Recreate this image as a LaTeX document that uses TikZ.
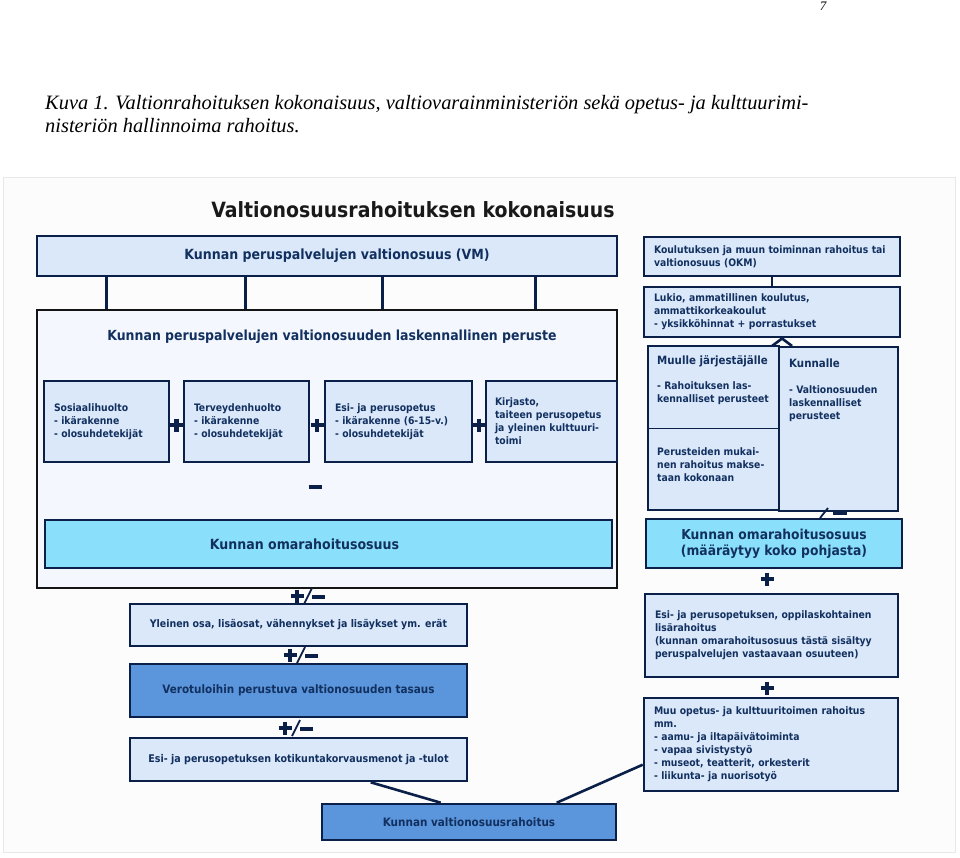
\documentclass[tikz,border=0pt]{standalone}
\usepackage{fontspec}
\setmainfont{Liberation Serif}
\newfontfamily\dv{DejaVu Sans Condensed}
\usetikzlibrary{calc}
\definecolor{navy}{HTML}{0B2048}
\definecolor{txt}{HTML}{12305F}
\definecolor{lite}{HTML}{DAE8FA}
\definecolor{frm}{HTML}{F4F8FE}
\definecolor{cyanbox}{HTML}{8ADFFA}
\definecolor{midblue}{HTML}{5B96DC}
\definecolor{bgpage}{HTML}{FCFCFC}
\newcommand\plusmark[2]{\draw[symline] (#1-6.5,#2) -- (#1+6.5,#2) (#1,#2-6.5) -- (#1,#2+6.5);}
\newcommand\minusmark[2]{\draw[symline] (#1-6.5,#2) -- (#1+6.5,#2);}
\newcommand\pmmark[2]{\plusmark{#1}{#2}\draw[slashline] (#1+7,#2+8) -- (#1+15,#2-8);\draw[symline] (#1+15,#2+1) -- (#1+28,#2+1);}
\begin{document}
\begin{tikzpicture}[x=1pt,y=-1pt,
  box/.style={draw=navy, line width=2.6pt, fill=lite, inner sep=0pt, text=txt,
    font=\dv\bfseries\fontsize{10.3}{13}\selectfont},
  lbox/.style={box, align=left, inner xsep=10pt},
  plain/.style={inner sep=0pt, text=txt, align=left, anchor=north west,
    font=\dv\bfseries\fontsize{10.3}{13}\selectfont},
  symline/.style={draw=navy, line width=4.2pt},
  slashline/.style={draw=navy, line width=1.8pt},
  conn/.style={draw=navy, line width=2.6pt},
  thinconn/.style={draw=navy, line width=1.4pt}]
\useasboundingbox (0,0) rectangle (960,857);
\fill[white] (0,0) rectangle (960,857);
% page number and caption
\node[anchor=north, inner sep=0pt, font=\itshape\fontsize{13}{15}\selectfont] (pgnum) at (823,1.5) {7};
\node[anchor=base west, inner sep=0pt, font=\itshape\fontsize{20.4}{23}\selectfont] (cap1) at (45,109)
  {Kuva 1. Valtionrahoituksen kokonaisuus, valtiovarainministeriön sekä opetus- ja kulttuurimi-};
\node[anchor=base west, inner sep=0pt, font=\itshape\fontsize{20.4}{23}\selectfont] (cap2) at (45,132)
  {nisteriön hallinnoima rahoitus.};
% diagram background
\node[draw=black!9, line width=1pt, fill=bgpage, minimum width=952pt, minimum height=675pt, inner sep=0pt] (bg) at (479,514.5) {};
\node[inner sep=0pt, text=black!90, font=\dv\bfseries\fontsize{21}{24}\selectfont] (title) at (413,210) {Valtionosuusrahoituksen kokonaisuus};
% left column
\node[box, minimum width=580pt, minimum height=40pt, font=\dv\bfseries\fontsize{14}{16}\selectfont] (vm) at (327,256)
  {\hspace*{20pt}Kunnan peruspalvelujen valtionosuus (VM)};
\node[draw=black!92, line width=2.6pt, fill=frm, minimum width=580pt, minimum height=278pt, inner sep=0pt] (frame) at (327,449) {};
\node[inner sep=0pt, text=txt, font=\dv\bfseries\fontsize{13.9}{16}\selectfont] (heading) at (332,337)
  {Kunnan peruspalvelujen valtionosuuden laskennallinen peruste};
\foreach \x in {71,210,347,500}
  \draw[conn] ([xshift=\x pt]vm.south west) -- ([xshift=\x pt]frame.north west);
\node[lbox, text width=105pt, minimum height=81pt] (b1) at (106.5,421.5)
  {Sosiaalihuolto\\- ikärakenne\\- olosuhdetekijät};
\node[lbox, text width=105pt, minimum height=81pt] (b2) at (246.5,421.5)
  {Terveydenhuolto\\- ikärakenne\\- olosuhdetekijät};
\node[lbox, text width=127pt, minimum height=81pt] (b3) at (398.5,421.5)
  {Esi- ja perusopetus\\- ikärakenne (6-15-v.)\\- olosuhdetekijät};
\node[box, align=left, inner xsep=9pt, text width=113pt, minimum height=81pt] (b4) at (551.5,421.5)
  {Kirjasto,\\taiteen perusopetus\\ja yleinen kulttuuri-\\toimi};
\plusmark{176.5}{425}
\plusmark{317}{425}
\plusmark{479}{425}
\minusmark{315}{487}
\node[box, fill=cyanbox, minimum width=567pt, minimum height=48pt, font=\dv\bfseries\fontsize{14}{16}\selectfont] (oma) at (328.5,544)
  {\raisebox{-4pt}{Kunnan omarahoitusosuus}\hspace*{48pt}};
\pmmark{297}{596}
\node[box, minimum width=337pt, minimum height=42pt, font=\dv\bfseries\fontsize{10.5}{13}\selectfont] (yleinen) at (298.5,625)
  {Yleinen osa, lisäosat, vähennykset ja lisäykset ym. erät};
\pmmark{290}{655}
\node[box, fill=midblue, minimum width=337pt, minimum height=53pt, font=\dv\bfseries\fontsize{11.6}{14}\selectfont] (vero) at (298.5,690.5)
  {Verotuloihin perustuva valtionosuuden tasaus};
\pmmark{285}{728}
\node[box, minimum width=337pt, minimum height=43pt, font=\dv\bfseries\fontsize{10.6}{13}\selectfont] (koti) at (298.5,759.5)
  {Esi- ja perusopetuksen kotikuntakorvausmenot ja -tulot};
\node[box, fill=midblue, minimum width=294pt, minimum height=36pt, font=\dv\bfseries\fontsize{11.6}{14}\selectfont] (bottom) at (469,822)
  {Kunnan valtionosuusrahoitus};
% right column
\node[lbox, text width=236pt, minimum height=39pt] (okm) at (772,256.5)
  {Koulutuksen ja muun toiminnan rahoitus tai\\valtionosuus (OKM)};
\node[lbox, text width=236pt, minimum height=50pt] (lukio) at (772,312)
  {Lukio, ammatillinen koulutus,\\ammattikorkeakoulut\\- yksikköhinnat + porrastukset};
\draw[conn] (okm.south) -- (lukio.north);
\node[box, minimum width=131pt, minimum height=164pt] (muulle) at (713.5,428) {};
\node[box, minimum width=119pt, minimum height=164pt] (kunnalle) at (838.5,429) {};
\draw[thinconn] ([yshift=-84pt]muulle.north west) -- ([yshift=-84pt]muulle.north east);
\coordinate (chevtop) at (782,338.5);
\coordinate (chevl) at (772,346);
\coordinate (chevr) at (792,346);
\draw[conn, line join=miter] (chevl) -- (chevtop) -- (chevr);
\node[plain, font=\dv\bfseries\fontsize{11.4}{13}\selectfont] (muut1) at (657,355) {Muulle järjestäjälle};
\node[plain] (muut2) at (657,381.5) {- Rahoituksen las-\\kennalliset perusteet};
\node[plain] (muut3) at (657,447.5) {Perusteiden mukai-\\nen rahoitus makse-\\taan kokonaan};
\node[plain, font=\dv\bfseries\fontsize{11.4}{13}\selectfont] (kunt1) at (789,359) {Kunnalle};
\node[plain] (kunt2) at (789,385.5) {- Valtionosuuden\\laskennalliset\\perusteet};
\node[box, fill=cyanbox, minimum width=256pt, minimum height=49pt, align=center, font=\dv\bfseries\fontsize{13.7}{16}\selectfont] (omar) at (774,543.5)
  {Kunnan omarahoitusosuus\\(määräytyy koko pohjasta)};
\draw[slashline] (820,518) -- (828,508);
\draw[draw=navy, line width=3.6pt] (833,513.5) -- (847,513.5);
\plusmark{767}{579}
\node[lbox, text width=233pt, minimum height=83pt] (esir) at (771.5,635.5)
  {Esi- ja perusopetuksen, oppilaskohtainen\\lisärahoitus\\(kunnan omarahoitusosuus tästä sisältyy\\peruspalvelujen vastaavaan osuuteen)};
\plusmark{767}{688}
\node[lbox, text width=234pt, minimum height=93pt] (muu) at (771,744.5)
  {Muu opetus- ja kulttuuritoimen rahoitus\\mm.\\- aamu- ja iltapäivätoiminta\\- vapaa sivistystyö\\- museot, teatterit, orkesterit\\- liikunta- ja nuorisotyö};
% bottom connectors
\draw[conn] ([xshift=242pt]koti.south west) -- ([xshift=120pt]bottom.north west);
\draw[conn] ([xshift=236pt]bottom.north west) -- ([yshift=-68pt]muu.north west);
\end{tikzpicture}
\end{document}
